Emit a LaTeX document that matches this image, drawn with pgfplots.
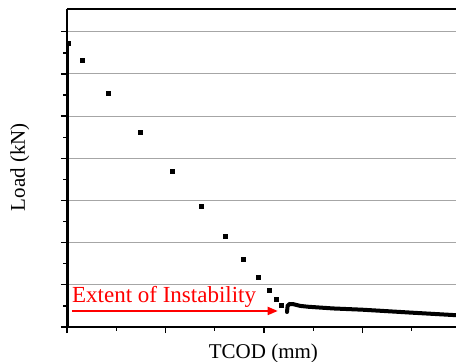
\documentclass[border=0pt]{standalone}
\usepackage{pgfplots}
\pgfplotsset{compat=1.18}
\usepackage{fontspec}
\setmainfont{Liberation Serif}
\usetikzlibrary{arrows.meta}
\begin{document}
\begin{tikzpicture}
\useasboundingbox (0,0) rectangle (456pt,362pt);
\begin{axis}[
 at={(67pt,35pt)}, anchor=south west,
 scale only axis, width=389pt, height=318pt,
 xmin=0, xmax=3.95, ymin=0, ymax=7.54,
 clip=false,
 axis x line*=bottom, axis y line*=left,
 axis line style={line width=1.6pt,-},
 xtick={0,1,2,3,4}, ytick={0,1,2,3,4,5,6,7},
 minor xtick={0.5,1.5,2.5,3.5}, minor ytick={0.5,1.5,2.5,3.5,4.5,5.5,6.5},
 xticklabels={}, yticklabels={},
 tick align=outside, major tick length=6pt, minor tick length=3.5pt,
 every tick/.style={line width=1.3pt, black},
 ymajorgrids, grid style={gray!70, line width=1pt},
 xlabel={TCOD (mm)}, ylabel={Load (kN)},
 label style={font=\fontsize{21}{24}\selectfont},
 xlabel style={at={(axis description cs:0.505,-0.1)}, anchor=base},
 ylabel style={at={(axis description cs:-0.108,0.503)}, anchor=base},
]
\draw[line width=1.6pt] (rel axis cs:0,1) -- (rel axis cs:1,1);
\addplot[black, line width=3.5pt] coordinates {(0.005,0) (0.005,6.73)};
\addplot[only marks, mark=square*, mark size=1.9pt, black] coordinates {
(0.01,6.73) (0.152,6.33) (0.416,5.55) (0.741,4.62) (1.066,3.70) (1.360,2.87)
(1.604,2.16) (1.787,1.61) (1.939,1.18) (2.051,0.877) (2.122,0.664) (2.173,0.521)
};
\addplot[black, line width=4pt, line cap=round] coordinates {
(2.234,0.355) (2.24,0.50) (2.26,0.545) (2.30,0.54) (2.37,0.50) (2.45,0.48)
(2.7,0.44) (3.0,0.41) (3.18,0.385) (3.5,0.34) (3.95,0.28)
};
\draw[red, line width=1.8pt, -{Triangle[length=10pt,width=8pt]}] (axis cs:0.05,0.38) -- (axis cs:2.14,0.38);
\node[red, anchor=base west, inner sep=0pt, font=\fontsize{23}{26}\selectfont] at (axis cs:0.05,0.57) {Extent of Instability};
\end{axis}
\end{tikzpicture}
\end{document}
